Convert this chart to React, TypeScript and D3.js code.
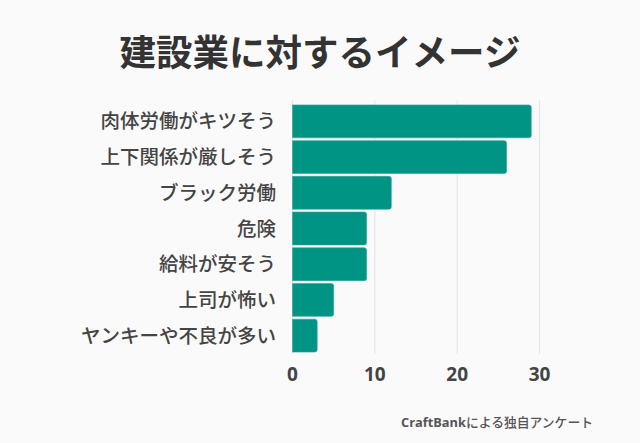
import React from "react";
import * as d3 from "d3";

const categories = [
  "肉体労働がキツそう",
  "上下関係が厳しそう",
  "ブラック労働",
  "危険",
  "給料が安そう",
  "上司が怖い",
  "ヤンキーや不良が多い",
];
const values = [29, 26, 12, 9, 9, 5, 3];
const ticks = [0, 10, 20, 30];
const title = "建設業に対するイメージ";
const sourceBrand = "CraftBank";
const sourceRest = "による独自アンケート";

const W = 640;
const H = 443;
const FONT = "'Noto Sans CJK JP', 'Noto Sans', sans-serif";
const LATIN = "'Open Sans', 'Noto Sans CJK JP', sans-serif";

export default function App() {
  const x = d3.scaleLinear().domain([0, 30]).range([292.5, 539.5]);
  const y = d3
    .scaleBand<string>()
    .domain(categories)
    .range([103.5, 353.5])
    .paddingInner(0.08)
    .paddingOuter(0.04);

  return (
    <svg
      width={W}
      height={H}
      style={{ position: "absolute", left: 0, top: 0, background: "#fafafa" }}
    >
      <rect x={0} y={0} width={W} height={H} fill="#fafafa" />
      <text
        x={320}
        y={66}
        textAnchor="middle"
        fontFamily={FONT}
        fontWeight={700}
        fontSize={36.5}
        fill="#333"
      >
        {title}
      </text>
      {ticks.map((t) => (
        <line
          key={"g" + t}
          x1={x(t)}
          x2={x(t)}
          y1={100}
          y2={354}
          stroke="#e4e4e4"
          strokeWidth={1}
        />
      ))}
      {categories.map((c, i) => {
        const bx = x(0);
        const bw = x(values[i]) - x(0);
        const by = y(c)!;
        const bh = y.bandwidth();
        const r = 2.5;
        const path = `M${bx},${by} H${bx + bw - r} Q${bx + bw},${by} ${bx + bw},${by + r} V${by + bh - r} Q${bx + bw},${by + bh} ${bx + bw - r},${by + bh} H${bx} Z`;
        return (
          <g key={c}>
            <path d={path} fill="#009485" stroke="#2ea396" strokeWidth={0.6} />
            <text
              x={276}
              y={by + bh / 2}
              dy="0.36em"
              textAnchor="end"
              fontFamily={FONT}
              fontWeight={500}
              fontSize={19.5}
              fill="#444"
            >
              {c}
            </text>
          </g>
        );
      })}
      {ticks.map((t) => (
        <text
          key={"t" + t}
          x={x(t)}
          y={374}
          dy="0.36em"
          textAnchor="middle"
          fontFamily={LATIN}
          fontWeight={700}
          fontSize={19}
          fill="#444"
        >
          {t}
        </text>
      ))}
      <text
        x={593}
        y={422}
        dy="0.36em"
        textAnchor="end"
        fontFamily={FONT}
        fontWeight={500}
        fontSize={12.8}
        fill="#555"
      >
        <tspan fontFamily={LATIN} fontWeight={700}>
          {sourceBrand}
        </tspan>
        <tspan>{sourceRest}</tspan>
      </text>
    </svg>
  );
}
